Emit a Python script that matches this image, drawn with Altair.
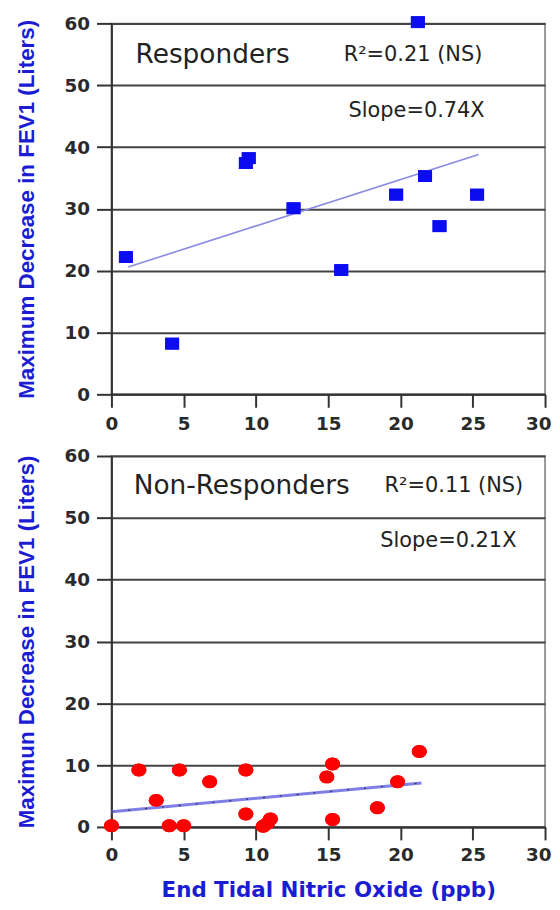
import altair as alt
import pandas as pd

# ---- data ----
resp_x = [1.0, 4.2, 9.3, 9.5, 12.6, 15.9, 19.7, 21.2, 21.7, 22.7, 25.3]
resp_y = [22.2, 8.2, 37.4, 38.2, 30.1, 20.1, 32.3, 60.2, 35.3, 27.2, 32.3]
resp_fit_x = [1.16, 25.4]
resp_fit_y = [20.6, 38.8]

non_x = [0.0, 1.9, 3.1, 4.0, 4.7, 5.0, 6.8, 9.3, 9.3, 10.5, 10.8, 11.0,
         14.9, 15.3, 15.3, 18.4, 19.8, 21.3]
non_y = [0.2, 9.2, 4.3, 0.2, 9.2, 0.2, 7.3, 9.2, 2.1, 0.1, 0.6, 1.3,
         8.1, 10.2, 1.2, 3.1, 7.3, 12.2]
non_fit_x = [0.0, 21.45]
non_fit_y = [2.46, 7.12]

x_ticks = [0, 5, 10, 15, 20, 25, 30]
y_ticks = [0, 10, 20, 30, 40, 50, 60]

top_group = ["Responders"]
top_group_x = [1.67]
top_group_y = [54.9]
top_stats = ["R²=0.21 (NS)", "Slope=0.74X"]
top_stats_x = [16.07, 16.4]
top_stats_y = [54.9, 45.75]

bot_group = ["Non-Responders"]
bot_group_x = [1.54]
bot_group_y = [55.1]
bot_stats = ["R²=0.11 (NS)", "Slope=0.21X"]
bot_stats_x = [18.9, 18.6]
bot_stats_y = [55.2, 46.3]

y_title_top = "Maximum Decrease in FEV1 (Liters)"
y_title_bot = "Maximun Decrease in FEV1 (Liters)"
x_title = "End Tidal Nitric Oxide (ppb)"

# ---- styles ----
W, H = 436, 373
TITLE_BLUE = "#1c1cd2"
LABEL_COL = "#2a2a2a"
SQUARE = "M-1,-0.85H1V0.85H-1Z"
ELLIPSE = "M-1,0A1,0.87 0 1,0 1,0A1,0.87 0 1,0 -1,0Z"

xscale = alt.Scale(domain=[0, 30], nice=False)
yscale = alt.Scale(domain=[0, 60], nice=False)

LAST = "datum.value === 30"


def x_axis(title, pad):
    kw = dict(values=x_ticks, grid=False, tickSize=13, tickWidth=2,
              tickColor="#333", domainColor="#333", domainWidth=2,
              labelFont="DejaVu Sans", labelFontWeight="bold",
              labelFontSize=18.5, labelColor=LABEL_COL, labelPadding=pad,
              labelFlush=False,
              labelAlign={"condition": {"test": LAST, "value": "right"},
                          "value": "center"},
              labelOffset={"condition": {"test": LAST, "value": 6},
                           "value": 0})
    if title:
        kw.update(title=title, titleFont="DejaVu Sans", titleFontWeight="bold",
                  titleFontSize=21.5, titleColor=TITLE_BLUE, titlePadding=15)
    else:
        kw.update(title=None)
    return alt.Axis(**kw)


def y_axis(title):
    return alt.Axis(values=y_ticks, grid=True, gridColor="#444", gridWidth=2,
                    tickSize=15, tickWidth=2, tickColor="#333",
                    domainColor="#333", domainWidth=2,
                    labelFont="DejaVu Sans", labelFontWeight="bold",
                    labelFontSize=18.5, labelColor=LABEL_COL, labelPadding=7,
                    labelFlush=False,
                    title=title, titleFont="Liberation Sans",
                    titleFontWeight="bold", titleFontSize=22.5,
                    titleColor=TITLE_BLUE, titlePadding=26)


def panel(px, py, fx, fy, gname, gx, gy, stats, sx, sy, ytitle, xtitle,
          shape, size, color, bottom):
    pts = pd.DataFrame({"x": px, "y": py})
    fit = pd.DataFrame({"x": fx, "y": fy})
    g = pd.DataFrame({"x": gx, "y": gy, "t": gname})
    s = pd.DataFrame({"x": sx, "y": sy, "t": stats})

    base_pts = alt.Chart(pts).mark_point(
        shape=shape, size=size, filled=True, color=color, opacity=1,
        strokeWidth=0
    ).encode(
        x=alt.X("x:Q", scale=xscale, axis=x_axis(xtitle, 6 if bottom else 7)),
        y=alt.Y("y:Q", scale=yscale, axis=y_axis(ytitle)),
    )
    if bottom:
        line1 = alt.Chart(fit).mark_line(color="#7f7fe6", strokeWidth=3).encode(
            x=alt.X("x:Q", scale=xscale), y=alt.Y("y:Q", scale=yscale))
        line2 = alt.Chart(fit).mark_line(color="#333366", strokeWidth=1.3,
                                         strokeDash=[2, 15]).encode(
            x=alt.X("x:Q", scale=xscale), y=alt.Y("y:Q", scale=yscale))
        lines = line1 + line2
    else:
        lines = alt.Chart(fit).mark_line(color="#8a8ae2", strokeWidth=1.6).encode(
            x=alt.X("x:Q", scale=xscale), y=alt.Y("y:Q", scale=yscale))
    gtext = alt.Chart(g).mark_text(
        align="left", baseline="middle", font="DejaVu Sans", fontSize=26.5,
        color="#222"
    ).encode(x=alt.X("x:Q", scale=xscale), y=alt.Y("y:Q", scale=yscale),
             text="t:N")
    stext = alt.Chart(s).mark_text(
        align="left", baseline="middle", font="DejaVu Sans", fontSize=21,
        color="#222"
    ).encode(x=alt.X("x:Q", scale=xscale), y=alt.Y("y:Q", scale=yscale),
             text="t:N")
    return alt.layer(base_pts, lines, gtext, stext, base_pts).properties(
        width=W, height=H)


top = panel(resp_x, resp_y, resp_fit_x, resp_fit_y, top_group, top_group_x,
            top_group_y, top_stats, top_stats_x, top_stats_y, y_title_top,
            None, SQUARE, 196, "#0c0cf0", False)
bot = panel(non_x, non_y, non_fit_x, non_fit_y, bot_group, bot_group_x,
            bot_group_y, bot_stats, bot_stats_x, bot_stats_y, y_title_bot,
            x_title, ELLIPSE, 225, "#ff0000", True)

chart = alt.vconcat(top, bot, spacing=12).properties(
    padding={"left": 6, "top": 3, "right": 0, "bottom": 0},
    background="white",
).configure_view(stroke="#777", strokeWidth=1.5)

chart.save("out.html", embed_options={"renderer": "svg", "actions": False})
